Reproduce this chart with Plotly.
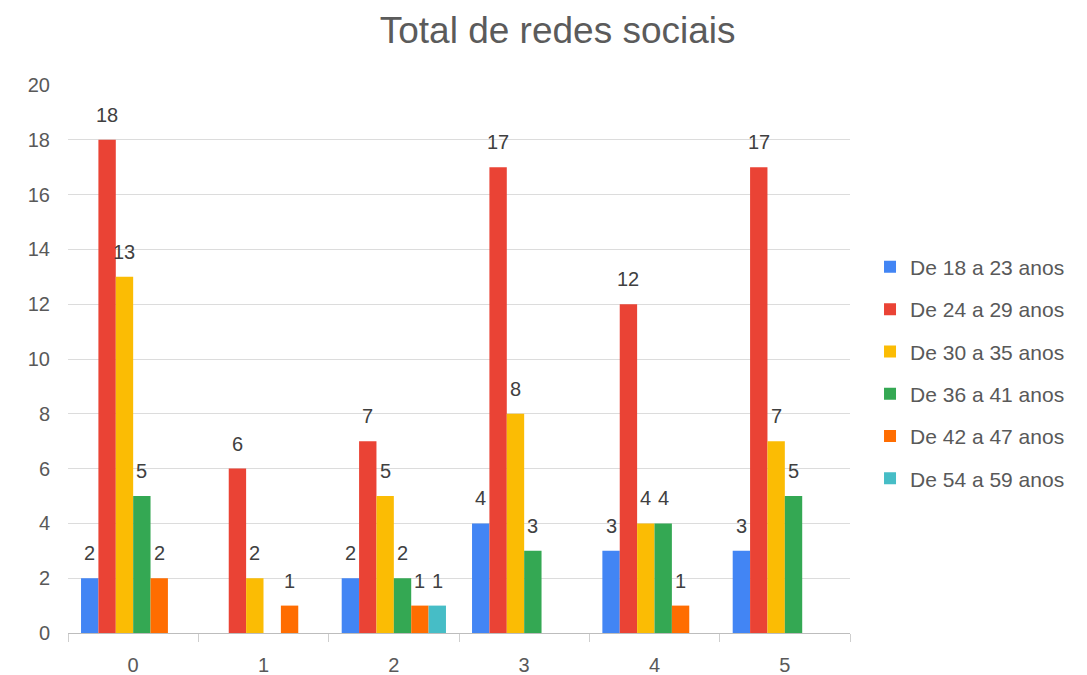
import plotly.graph_objects as go

categories = ["0", "1", "2", "3", "4", "5"]
series_names = [
    "De 18 a 23 anos",
    "De 24 a 29 anos",
    "De 30 a 35 anos",
    "De 36 a 41 anos",
    "De 42 a 47 anos",
    "De 54 a 59 anos",
]
age_18_23 = [2, None, 2, 4, 3, 3]
age_24_29 = [18, 6, 7, 17, 12, 17]
age_30_35 = [13, 2, 5, 8, 4, 7]
age_36_41 = [5, None, 2, 3, 4, 5]
age_42_47 = [2, 1, 1, None, 1, None]
age_54_59 = [None, None, 1, None, None, None]
y_ticks = [0, 2, 4, 6, 8, 10, 12, 14, 16, 18, 20]

series_values = [age_18_23, age_24_29, age_30_35, age_36_41, age_42_47, age_54_59]
colors = ["#4285F4", "#EA4335", "#FBBC04", "#34A853", "#FF6D01", "#46BDC6"]

FONT = "Liberation Sans, Arial, sans-serif"
BARGAP = 0.2
n_series = len(series_values)
slot = (1 - BARGAP) / n_series

fig = go.Figure()
annotations = []
for k, (name, vals, color) in enumerate(zip(series_names, series_values, colors)):
    fig.add_trace(go.Bar(
        x=categories,
        y=vals,
        name=name,
        legendgroup=name,
        marker=dict(color=color, line=dict(width=0)),
    ))
    # value labels above each bar, centred on the bar's slot within its group
    for i, v in enumerate(vals):
        if v is None:
            continue
        annotations.append(dict(
            x=i + (k - (n_series - 1) / 2) * slot,
            y=v,
            xref="x", yref="y",
            text=str(v),
            showarrow=False,
            yanchor="bottom",
            xanchor="center",
            yshift=12,
            font=dict(family=FONT, size=20, color="#404040"),
        ))

fig.update_layout(
    width=1087,
    height=675,
    barmode="group",
    bargap=BARGAP,
    bargroupgap=0,
    plot_bgcolor="white",
    paper_bgcolor="white",
    font=dict(family=FONT, color="#595959"),
    margin=dict(l=68, r=237, t=85, b=42, autoexpand=False),
    title=dict(
        text="Total de redes sociais",
        x=0.513, xanchor="center", xref="container",
        y=0.9556, yanchor="middle", yref="container",
        font=dict(family=FONT, size=37, color="#5b5b5b"),
    ),
    showlegend=True,
    legend=dict(
        x=1.0256, xanchor="left",
        y=0.475, yanchor="middle",
        font=dict(family=FONT, size=21, color="#595959"),
        tracegroupgap=12,
        itemwidth=30,
        bgcolor="rgba(0,0,0,0)",
    ),
    annotations=annotations,
)

fig.update_yaxes(
    range=[0, 20],
    tickvals=y_ticks,
    showgrid=True,
    gridcolor="#dcdcdc",
    gridwidth=1,
    zeroline=False,
    showline=False,
    automargin=False,
    tickfont=dict(family=FONT, size=20, color="#595959"),
    ticks="",
    ticklabelstandoff=17,
)

fig.update_xaxes(
    type="category",
    showline=True,
    linecolor="#bdbdbd",
    linewidth=1,
    ticks="outside",
    tickson="boundaries",
    ticklen=8,
    tickcolor="#cfcfcf",
    showgrid=False,
    automargin=False,
    tickfont=dict(family=FONT, size=20, color="#595959"),
    ticklabelstandoff=14,
)

fig.write_html("out.html")
